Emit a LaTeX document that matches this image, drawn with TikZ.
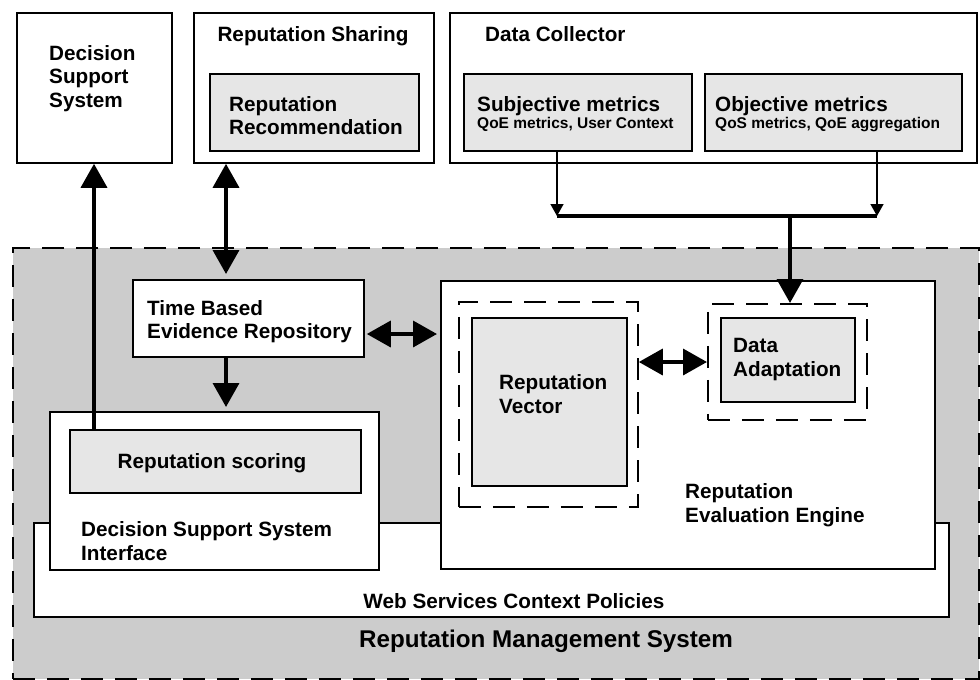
\documentclass[tikz,border=0pt]{standalone}
\usepackage{fontspec}
\setmainfont{Liberation Sans}
\usetikzlibrary{arrows.meta,calc}
\definecolor{outergray}{HTML}{CCCCCC}
\definecolor{innergray}{HTML}{E6E6E6}
\newcommand\mainfs{\bfseries\fontsize{20.7}{23.3}\selectfont}
\newcommand\subfs{\bfseries\fontsize{15.5}{18}\selectfont}
\newcommand\bigfs{\bfseries\fontsize{24.2}{28}\selectfont}
\tikzset{
  plainbox/.style={draw, line width=1.8pt, fill=white, inner sep=0pt, anchor=north west},
  graybox/.style={draw, line width=1.8pt, fill=innergray, inner sep=0pt, anchor=north west},
  dashbox/.style={draw, line width=1.8pt, dash pattern=on 22pt off 12pt, inner sep=0pt, anchor=north west},
  lbl/.style={inner sep=0pt, font=\mainfs, align=left, anchor=north west},
  lblb/.style={inner sep=0pt, font=\mainfs, anchor=base west},
  sublbl/.style={inner sep=0pt, font=\subfs, anchor=base west},
  bigarrow/.style={line width=3.6pt, -{Triangle[length=24pt,width=26pt]}},
  bigboth/.style={line width=3.6pt, {Triangle[length=24pt,width=26pt]}-{Triangle[length=24pt,width=26pt]}},
  thinarrow/.style={line width=1.5pt, -{Triangle[length=12pt,width=13pt]}},
  bus/.style={line width=4pt}
}
\begin{document}
\begin{tikzpicture}[x=1pt,y=-1pt]
\useasboundingbox (0,0) rectangle (980,680);
% outer system
\node[draw, line width=2pt, dash pattern=on 22pt off 12pt, fill=outergray, inner sep=0pt, anchor=north west,
      minimum width=966pt, minimum height=431pt] (outer) at (12,247) {};
\node[plainbox, minimum width=915pt, minimum height=94pt] (web) at (33,522) {};
\node[plainbox, minimum width=494pt, minimum height=288pt] (engine) at (440,280) {};
\node[plainbox, minimum width=329pt, minimum height=158pt] (dssi) at (49,411) {};
\node[graybox, minimum width=291pt, minimum height=63pt] (score) at (69,429) {};
\node[plainbox, minimum width=231pt, minimum height=77pt] (evid) at (132,279) {};
\node[dashbox, minimum width=179pt, minimum height=205pt] (rvd) at (458,301) {};
\node[graybox, minimum width=155pt, minimum height=168pt] (rv) at (471,317) {};
\node[dashbox, minimum width=159pt, minimum height=116pt] (dad) at (707,303) {};
\node[graybox, minimum width=134pt, minimum height=84pt] (da) at (720,317) {};
% top boxes
\node[plainbox, minimum width=155pt, minimum height=150pt] (dss) at (16,12) {};
\node[plainbox, minimum width=240pt, minimum height=150pt] (share) at (193,12) {};
\node[graybox, minimum width=209pt, minimum height=77pt] (rec) at (209,73) {};
\node[plainbox, minimum width=527pt, minimum height=150pt] (coll) at (449,12) {};
\node[graybox, minimum width=228pt, minimum height=77pt] (subj) at (463,73) {};
\node[graybox, minimum width=257pt, minimum height=77pt] (obj) at (704,73) {};
% labels
\node[lbl] (tdss) at (49,45.2) {Decision\\Support\\System};
\node[inner sep=0pt, font=\mainfs, anchor=base] (tshare) at (313,41) {Reputation Sharing};
\node[lbl] (trec) at (229,96) {Reputation\\Recommendation};
\node[lblb] (tcoll) at (485,41) {Data Collector};
\node[lblb] (tsubj) at (477,111) {Subjective metrics};
\node[sublbl] (tsubj2) at (477,128) {QoE metrics, User Context};
\node[lblb] (tobj) at (715,111) {Objective metrics};
\node[sublbl] (tobj2) at (715,128) {QoS metrics, QoE aggregation};
\node[lbl] (tevid) at (147,300) {Time Based\\Evidence Repository};
\node[inner sep=0pt, font=\mainfs, anchor=base] (tscore) at (212,468) {Reputation scoring};
\node[lbl] (tdssi) at (81,521.5) {Decision Support System\\Interface};
\node[inner sep=0pt, font=\mainfs, anchor=base] (tweb) at (514,608) {Web Services Context Policies};
\node[inner sep=0pt, font=\bigfs, anchor=base] (touter) at (546,647) {Reputation Management System};
\node[lbl] (trv) at (499,374.5) {Reputation\\Vector};
\node[lbl] (tda) at (733,338.5) {Data\\Adaptation};
\node[lbl] (teng) at (685,483.5) {Reputation\\Evaluation Engine};
% helper coordinates
\coordinate (xa) at (94,0);
\coordinate (xb) at (226,0);
\coordinate (ya) at (0,334);
\coordinate (yb) at (0,362);
\coordinate (xs) at (557,0);
\coordinate (xo) at (877,0);
\coordinate (xm) at (790,0);
\coordinate (busL) at (557,216);
\coordinate (busR) at (877,216);
\coordinate (busM) at (790,216);
% connectors
\draw[bigarrow] (score.north -| xa) -- (dss.south -| xa);
\draw[bigboth, shorten >=5pt] (share.south -| xb) -- (evid.north -| xb);
\draw[bigarrow, shorten >=4pt] (evid.south -| xb) -- (dssi.north -| xb);
\draw[bigboth, shorten <=2pt, shorten >=3pt] (evid.east |- ya) -- (engine.west |- ya);
\draw[bigboth] (rvd.east |- yb) -- (dad.west |- yb);
\draw[thinarrow] (subj.south -| xs) -- (busL);
\draw[thinarrow] (obj.south -| xo) -- (busR);
\draw[bus] (busL) -- (busR);
\draw[bigarrow] (busM) -- (dad.north -| xm);
\end{tikzpicture}
\end{document}
